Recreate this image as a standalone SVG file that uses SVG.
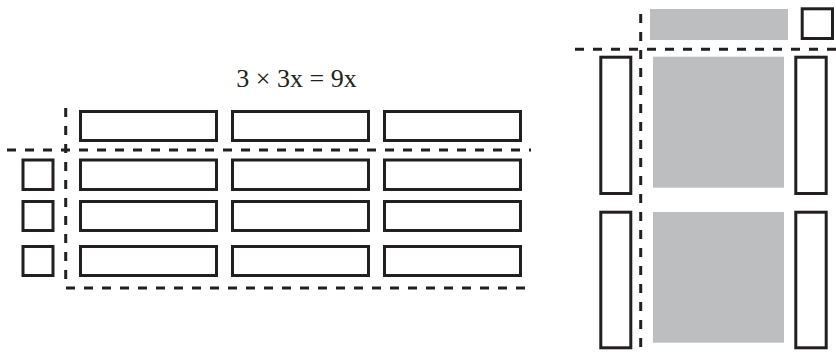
<svg xmlns="http://www.w3.org/2000/svg" width="836" height="352" viewBox="0 0 836 352">
<style>
.box{fill:#fff;stroke:#231f20;stroke-width:3}
.gray{fill:#bcbec0;stroke:none}
.dash{fill:none;stroke:#231f20;stroke-width:3;stroke-dasharray:9 9}
.lbl{font-family:"Liberation Serif","Times New Roman",serif;font-size:26px;fill:#231f20}
</style>
<rect width="836" height="352" fill="#fff"/>
<text class="lbl" x="296.5" y="87" text-anchor="middle">3 × 3x = 9x</text>
<g id="connectors">
<line class="dash" x1="7" y1="150" x2="531" y2="150"/>
<line class="dash" x1="65.7" y1="108" x2="65.7" y2="285"/>
<line class="dash" x1="66" y1="288" x2="531" y2="288"/>
<line class="dash" x1="575" y1="49.3" x2="836" y2="49.3"/>
<line class="dash" x1="640.7" y1="14" x2="640.7" y2="352"/>
</g>
<g id="left">
<g id="top-row">
<rect class="box" x="80.5" y="111.5" width="136" height="29"/>
<rect class="box" x="232.5" y="111.5" width="136" height="29"/>
<rect class="box" x="384.5" y="111.5" width="136" height="29"/>
</g>
<g id="squares">
<rect class="box" x="23" y="160" width="30" height="29.5"/>
<rect class="box" x="23" y="201.5" width="30" height="29"/>
<rect class="box" x="23" y="246.5" width="30" height="29"/>
</g>
<g id="row1">
<rect class="box" x="80.5" y="160" width="136" height="29.5"/>
<rect class="box" x="232.5" y="160" width="136" height="29.5"/>
<rect class="box" x="384.5" y="160" width="136" height="29.5"/>
</g>
<g id="row2">
<rect class="box" x="80.5" y="201.5" width="136" height="29"/>
<rect class="box" x="232.5" y="201.5" width="136" height="29"/>
<rect class="box" x="384.5" y="201.5" width="136" height="29"/>
</g>
<g id="row3">
<rect class="box" x="80.5" y="246.5" width="136" height="29"/>
<rect class="box" x="232.5" y="246.5" width="136" height="29"/>
<rect class="box" x="384.5" y="246.5" width="136" height="29"/>
</g>
</g>
<g id="right">
<rect id="gray-top" class="gray" x="650" y="9" width="138" height="31"/>
<rect id="sq-top" class="box" x="802.2" y="8.8" width="30.3" height="29.7"/>
<rect id="left-tall-1" class="box" x="600.8" y="57.2" width="30" height="136.3"/>
<rect id="left-tall-2" class="box" x="600.8" y="212.2" width="30" height="135.6"/>
<rect id="right-tall-1" class="box" x="795.8" y="57.2" width="30.4" height="136.3"/>
<rect id="right-tall-2" class="box" x="795.8" y="212.2" width="30.4" height="135.6"/>
<rect id="gray-1" class="gray" x="653" y="56.7" width="131" height="131"/>
<rect id="gray-2" class="gray" x="653" y="212" width="131" height="130.7"/>
</g>
</svg>
